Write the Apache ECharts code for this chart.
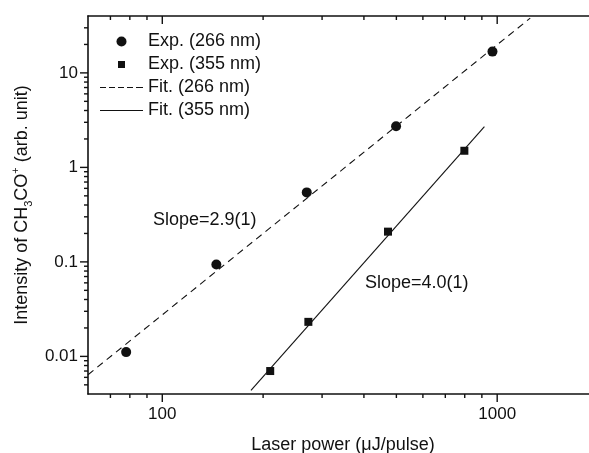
<!DOCTYPE html>
<html>
<head>
<meta charset="utf-8">
<script src="https://cdn.jsdelivr.net/npm/echarts@6/dist/echarts.min.js"></script>
<style>
  html, body { margin: 0; padding: 0; background: #fff; }
  #chart { width: 589px; height: 453px; }
</style>
</head>
<body>
<div id="chart"></div>
<script>
var exp266 = [[78, 0.0111], [145, 0.094], [270, 0.544], [499, 2.72], [968, 16.8]];
var exp355 = [[210, 0.0070], [273, 0.0232], [472, 0.209], [798, 1.50]];
var fit266 = [[60, 0.0064], [1255, 38]];
var fit355 = [[184, 0.00437], [916, 2.70]];

var xLabels = [100, 1000];
var xMinor = [70, 80, 90, 200, 300, 400, 500, 600, 700, 800, 900];
var yLabels = [0.01, 0.1, 1, 10];
var yMinor = [0.005, 0.006, 0.007, 0.008, 0.009,
              0.02, 0.03, 0.04, 0.05, 0.06, 0.07, 0.08, 0.09,
              0.2, 0.3, 0.4, 0.5, 0.6, 0.7, 0.8, 0.9,
              2, 3, 4, 5, 6, 7, 8, 9, 20, 30];

var xRange = [60, 2000];
var yRange = [0.004, 40];

var ink = '#111';
var font = 'Liberation Sans';

function onlyLabels(list) {
    return function (v) {
        for (var i = 0; i < list.length; i++) {
            if (Math.abs(v / list[i] - 1) < 1e-6) return String(list[i]);
        }
        return '';
    };
}

// axis ticks drawn as a custom series, placed through the axes' own coord()
function tickSeries(points, dx, dy, len) {
    return {
        type: 'custom', data: points, clip: false, silent: true, z: 5,
        renderItem: function (params, api) {
            var p = api.coord([api.value(0), api.value(1)]);
            return {
                type: 'line',
                shape: {x1: p[0], y1: p[1], x2: p[0] + dx * len, y2: p[1] + dy * len},
                style: {stroke: ink, lineWidth: 1.4}
            };
        }
    };
}

var bottomMajor = xLabels.map(function (v) { return [v, yRange[0]]; });
var bottomMinor = xMinor.map(function (v) { return [v, yRange[0]]; });
var topMajor = xLabels.map(function (v) { return [v, yRange[1]]; });
var topMinor = xMinor.map(function (v) { return [v, yRange[1]]; });
var leftMajor = yLabels.map(function (v) { return [xRange[0], v]; });
var leftMinor = yMinor.map(function (v) { return [xRange[0], v]; });

var chart = echarts.init(document.getElementById('chart'));
chart.setOption({
    animation: false,
    grid: {left: 88, top: 16, right: -9, bottom: 59, outerBoundsMode: 'none'},
    legend: {
        orient: 'vertical', left: 100, top: 32, padding: 0,
        itemWidth: 43, itemHeight: 10, itemGap: 4,
        textStyle: {color: ink, fontFamily: font, fontSize: 18, lineHeight: 19},
        data: [
            {name: 'Exp. (266 nm)', icon: 'circle', itemStyle: {color: ink, opacity: 1}},
            {name: 'Exp. (355 nm)', icon: 'path://M0,0M12,12M1.8,1.8h8.4v8.4h-8.4z', itemStyle: {color: ink, opacity: 1}},
            {name: 'Fit. (266 nm)', icon: 'path://M0,0h6v1.2h-6zM9,0h6v1.2h-6zM18,0h6v1.2h-6zM27,0h6v1.2h-6zM36,0h7v1.2h-7z', itemStyle: {color: ink, opacity: 1}},
            {name: 'Fit. (355 nm)', icon: 'path://M0,0h43v1.2h-43z', itemStyle: {color: ink, opacity: 1}}
        ]
    },
    xAxis: [
        {
            type: 'log', min: xRange[0], max: xRange[1], position: 'bottom',
            axisLine: {show: true, lineStyle: {color: ink, width: 1.6}},
            axisTick: {show: false}, minorTick: {show: false},
            axisLabel: {margin: 12, color: ink, fontFamily: font, fontSize: 17,
                        formatter: onlyLabels(xLabels)},
            splitLine: {show: false},
            name: 'Laser power (\u03bcJ/pulse)',
            nameLocation: 'middle', nameGap: 42,
            nameTextStyle: {color: ink, fontFamily: font, fontSize: 18}
        },
        {
            type: 'log', min: xRange[0], max: xRange[1], position: 'top',
            axisLine: {show: true, lineStyle: {color: ink, width: 1.6}},
            axisTick: {show: false}, axisLabel: {show: false}, splitLine: {show: false}
        }
    ],
    yAxis: [
        {
            type: 'log', min: yRange[0], max: yRange[1], position: 'left',
            axisLine: {show: true, lineStyle: {color: ink, width: 1.6}},
            axisTick: {show: false}, minorTick: {show: false},
            axisLabel: {margin: 10, color: ink, fontFamily: font, fontSize: 17,
                        formatter: onlyLabels(yLabels)},
            splitLine: {show: false},
            name: '{a|Intensity of CH}{s|3}{a|CO}{p|+}{a| (arb. unit)}',
            nameLocation: 'middle', nameGap: 52,
            nameTextStyle: {
                color: ink, fontFamily: font, fontSize: 18,
                rich: {
                    a: {color: ink, fontFamily: font, fontSize: 18},
                    s: {color: ink, fontFamily: font, fontSize: 11, verticalAlign: 'bottom', padding: [0, 0, -3, 0]},
                    p: {color: ink, fontFamily: font, fontSize: 11, verticalAlign: 'top', padding: [-3, 0, 0, 0]}
                }
            }
        }
    ],
    graphic: [
        {type: 'text', left: 153, top: 211, style: {text: 'Slope=2.9(1)', fill: ink, font: '18px "Liberation Sans"'}},
        {type: 'text', left: 365, top: 274, style: {text: 'Slope=4.0(1)', fill: ink, font: '18px "Liberation Sans"'}}
    ],
    series: [
        {
            name: 'Fit. (266 nm)', type: 'line', data: fit266, symbol: 'none',
            color: ink, lineStyle: {color: ink, width: 1.1, type: [7, 5]}, z: 1
        },
        {
            name: 'Fit. (355 nm)', type: 'line', data: fit355, symbol: 'none',
            color: ink, lineStyle: {color: ink, width: 1.1}, z: 1
        },
        {
            name: 'Exp. (266 nm)', type: 'scatter', data: exp266, symbol: 'circle', symbolSize: 10,
            color: ink, itemStyle: {color: ink, opacity: 1}, z: 3
        },
        {
            name: 'Exp. (355 nm)', type: 'scatter', data: exp355, symbol: 'rect', symbolSize: 8,
            color: ink, itemStyle: {color: ink, opacity: 1}, z: 3
        },
        tickSeries(bottomMajor, 0, 1, 8),
        tickSeries(bottomMinor, 0, 1, 4),
        tickSeries(topMajor, 0, 1, 8),
        tickSeries(topMinor, 0, 1, 4),
        tickSeries(leftMajor, -1, 0, 8),
        tickSeries(leftMinor, -1, 0, 4)
    ]
});
</script>
</body>
</html>
